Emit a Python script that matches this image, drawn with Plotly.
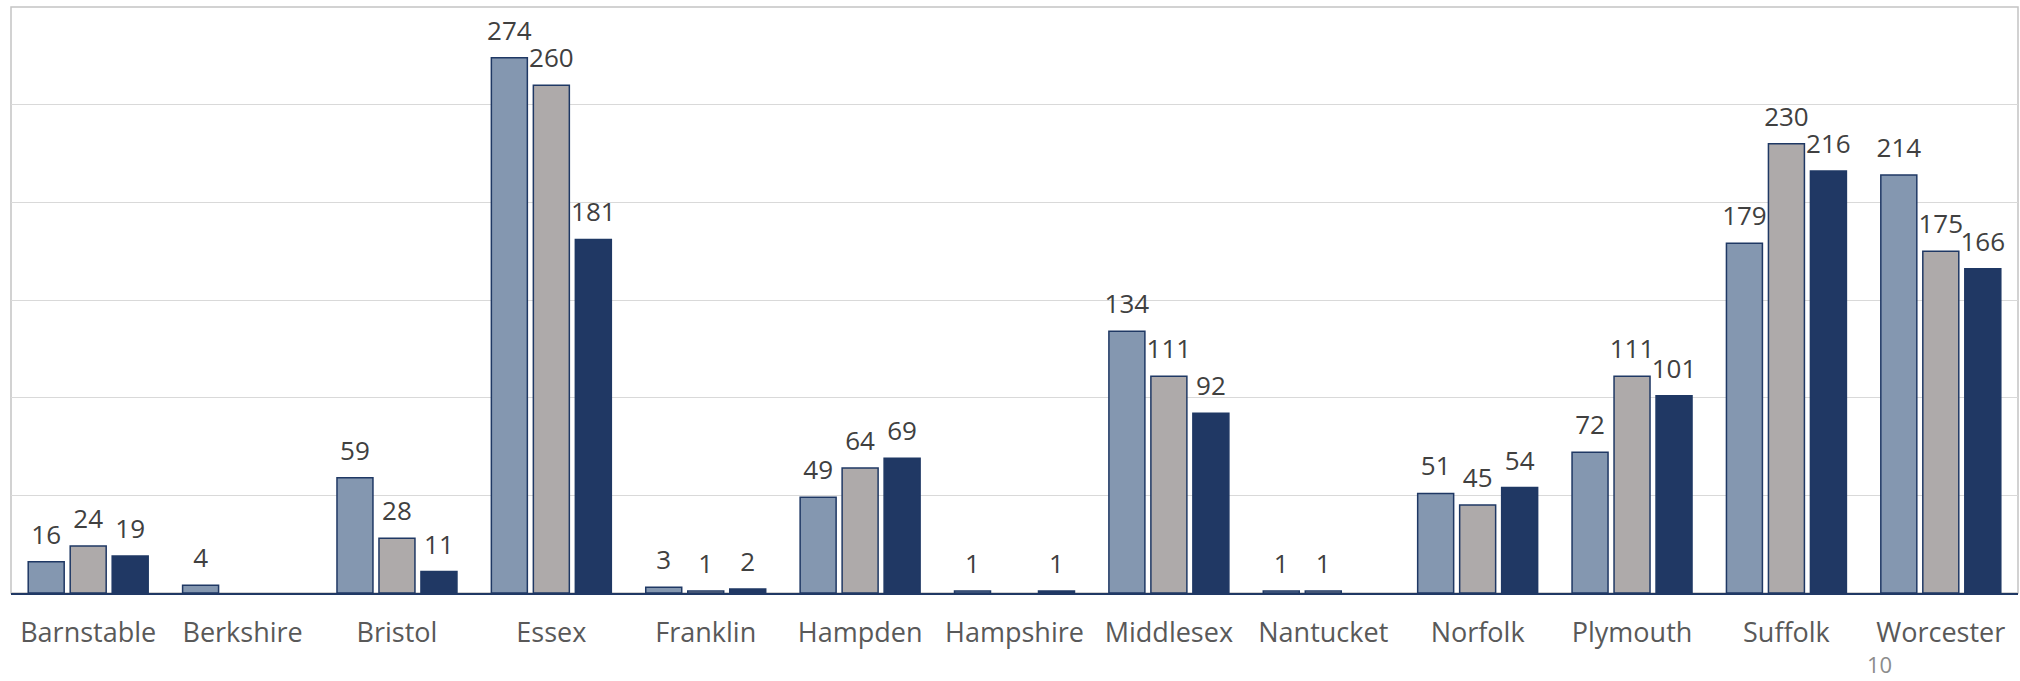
import plotly.graph_objects as go

counties = ["Barnstable", "Berkshire", "Bristol", "Essex", "Franklin", "Hampden",
            "Hampshire", "Middlesex", "Nantucket", "Norfolk", "Plymouth", "Suffolk", "Worcester"]
series_a = [16, 4, 59, 274, 3, 49, 1, 134, 1, 51, 72, 179, 214]
series_b = [24, None, 28, 260, 1, 64, None, 111, 1, 45, 111, 230, 175]
series_c = [19, None, 11, 181, 2, 69, 1, 92, None, 54, 101, 216, 166]
series_names = ["Series 1", "Series 2", "Series 3"]
page_number = "10"

colors = ["#8497B0", "#AEAAAA", "#203864"]
outline = "#1F3864"
font_family = "Open Sans, Segoe UI, DejaVu Sans, sans-serif"

# invisible wide-descent padding so the outside labels sit a little higher above the bars
pad = "<span style='font-size:52px'>\u00a0</span>"

fig = go.Figure()
for name, vals, col in zip(series_names, [series_a, series_b, series_c], colors):
    fig.add_trace(go.Bar(
        x=counties, y=vals, name=name,
        marker=dict(color=col, line=dict(color=outline, width=1.5)),
        text=[("" if v is None else pad + str(v) + pad) for v in vals],
        textposition="outside",
        constraintext="none",
        cliponaxis=False,
        textfont=dict(family=font_family, size=26, color="#404040"),
        hoverinfo="x+y",
    ))

fig.update_layout(
    width=2020, height=681,
    margin=dict(l=11, r=2, t=7, b=88),
    paper_bgcolor="white", plot_bgcolor="white",
    barmode="group", bargap=0.184, bargroupgap=0.143,
    showlegend=False,
    font=dict(family=font_family),
    shapes=[dict(type="rect", xref="paper", yref="paper", x0=0, x1=1, y0=0, y1=1,
                 line=dict(color="#C4C4C4", width=1.5), layer="below")],
    annotations=[dict(text=page_number, xref="paper", yref="paper", x=0.931, y=-0.122,
                      xanchor="center", yanchor="middle", showarrow=False,
                      font=dict(family=font_family, size=22, color="#8C8C8C"))],
)
fig.update_xaxes(
    type="category", showgrid=False, showline=True, linecolor="#203864", linewidth=2.2,
    ticks="", tickfont=dict(family=font_family, size=27, color="#595959"),
    ticklabelstandoff=14,
)
fig.update_yaxes(
    range=[0, 300], dtick=50, showgrid=True, gridcolor="#D9D9D9", gridwidth=1.3,
    showticklabels=False, zeroline=False, showline=False,
)

fig.write_html("out.html", config={"displayModeBar": False},
               post_script="document.body.style.margin='0';")
